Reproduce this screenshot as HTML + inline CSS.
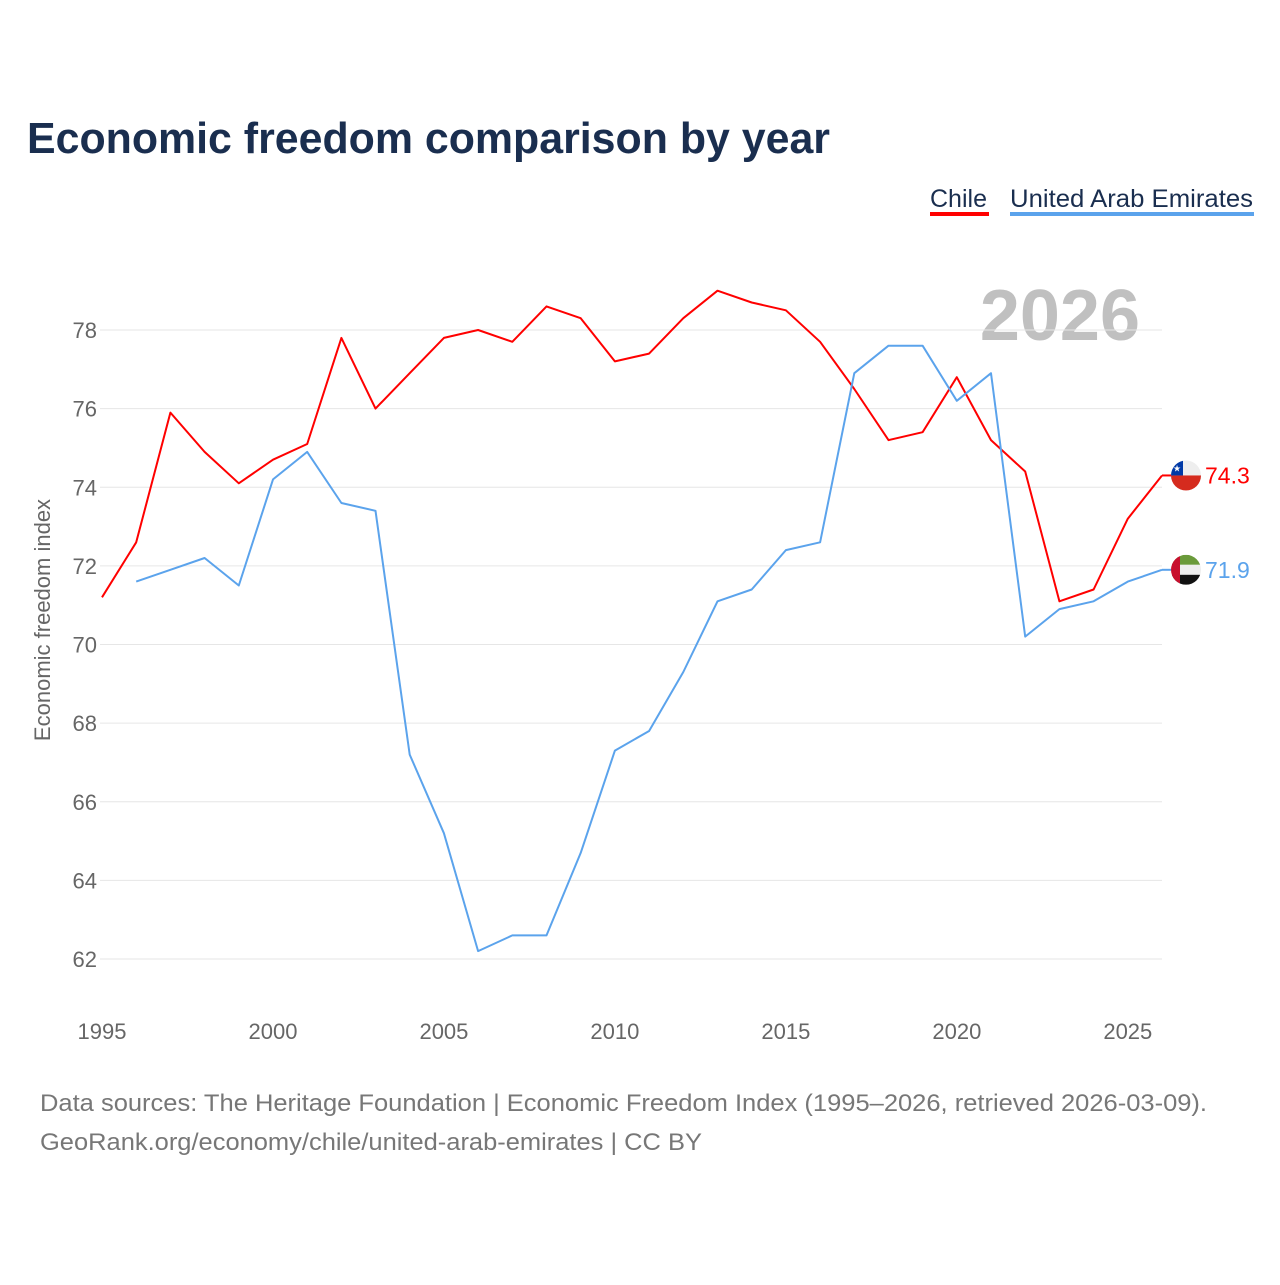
<!DOCTYPE html>
<html><head><meta charset="utf-8">
<style>
body{margin:0;background:#fff;width:1280px;height:1280px;overflow:hidden;font-family:"Liberation Sans",sans-serif;}
</style></head>
<body>
<svg id="chart" width="1280" height="1280" xmlns="http://www.w3.org/2000/svg" font-family="Liberation Sans, sans-serif">
<text x="27" y="153" font-size="44" font-weight="bold" fill="#1a2e4f" textLength="803" lengthAdjust="spacingAndGlyphs">Economic freedom comparison by year</text>
<g>
<text x="930" y="207" font-size="25" fill="#1a2e4f">Chile</text>
<rect x="930" y="212" width="59" height="4" fill="#ff0000"/>
<text x="1010" y="207" font-size="25" fill="#1a2e4f" textLength="243" lengthAdjust="spacingAndGlyphs">United Arab Emirates</text>
<rect x="1010" y="212" width="244" height="4" fill="#5ba3ec"/>
</g>
<text x="1140" y="340" font-size="72" font-weight="bold" fill="#c0c0c0" text-anchor="end">2026</text>
<text transform="translate(50,620) rotate(-90)" font-size="22" fill="#666" text-anchor="middle">Economic freedom index</text>
<g id="grid"></g><g id="ticks"></g><g id="lines"></g><g id="ends"></g>
<text x="40" y="1111" font-size="24" fill="#777" textLength="1167" lengthAdjust="spacingAndGlyphs">Data sources: The Heritage Foundation | Economic Freedom Index (1995–2026, retrieved 2026-03-09).</text>
<text x="40" y="1150" font-size="24" fill="#777" textLength="662" lengthAdjust="spacingAndGlyphs">GeoRank.org/economy/chile/united-arab-emirates | CC BY</text>
</svg>
<script>
const years=[1995,1996,1997,1998,1999,2000,2001,2002,2003,2004,2005,2006,2007,2008,2009,2010,2011,2012,2013,2014,2015,2016,2017,2018,2019,2020,2021,2022,2023,2024,2025,2026];
const chile=[71.2,72.6,75.9,74.9,74.1,74.7,75.1,77.8,76.0,76.9,77.8,78.0,77.7,78.6,78.3,77.2,77.4,78.3,79.0,78.7,78.5,77.7,76.5,75.2,75.4,76.8,75.2,74.4,71.1,71.4,73.2,74.3];
const uae=[null,71.6,71.9,72.2,71.5,74.2,74.9,73.6,73.4,67.2,65.2,62.2,62.6,62.6,64.7,67.3,67.8,69.3,71.1,71.4,72.4,72.6,76.9,77.6,77.6,76.2,76.9,70.2,70.9,71.1,71.6,71.9];
const yTicks=[62,64,66,68,70,72,74,76,78];
const xTicks=[1995,2000,2005,2010,2015,2020,2025];
const NS="http://www.w3.org/2000/svg";
const x=v=>102+(v-1995)*(1162-102)/31;
const y=v=>330+(78-v)*(959-330)/16;
function mk(tag,attrs,parent,text){const e=document.createElementNS(NS,tag);for(const k in attrs)e.setAttribute(k,attrs[k]);if(text!==undefined)e.textContent=text;document.getElementById(parent).appendChild(e);return e;}
yTicks.forEach(t=>{
  const g=mk('line',{x1:100,x2:1162,y1:y(t),y2:y(t),stroke:'#e6e6e6','stroke-width':1},'grid');
  
  
  const l=mk('text',{x:97,y:y(t)+8,'font-size':22,fill:'#666','text-anchor':'end'},'ticks',String(t));
  
  
});
xTicks.forEach(t=>{
  const l=mk('text',{x:x(t),y:1039,'font-size':22,fill:'#666','text-anchor':'middle'},'ticks',String(t));
  
  
});
function path(vals,color,name){
  let d='';let pen=false;
  vals.forEach((v,i)=>{if(v===null){pen=false;return;}d+=(pen?'L':'M')+x(years[i]).toFixed(1)+','+y(v).toFixed(1);pen=true;});
  const p=mk('path',{d:d,fill:'none',stroke:color,'stroke-width':2,'stroke-linejoin':'round'},'lines');
  
  
}
path(chile,'#ff0000','line-chile');
path(uae,'#5ba3ec','line-uae');
function end(vals,color,name,flag){
  const v=vals[vals.length-1];const cy=y(v);const cx=1186;
  const g=mk('g',{},'ends');
  
  
  const id='clip-'+name;
  const cp=document.createElementNS(NS,'clipPath');cp.setAttribute('id',id);
  const c=document.createElementNS(NS,'circle');c.setAttribute('cx',cx);c.setAttribute('cy',cy);c.setAttribute('r',15);cp.appendChild(c);g.appendChild(cp);
  const fg=document.createElementNS(NS,'g');fg.setAttribute('clip-path','url(#'+id+')');g.appendChild(fg);
  const r=(X,Y,W,H,f)=>{const e=document.createElementNS(NS,'rect');e.setAttribute('x',X);e.setAttribute('y',Y);e.setAttribute('width',W);e.setAttribute('height',H);e.setAttribute('fill',f);fg.appendChild(e);};
  if(flag==='cl'){r(cx-15,cy-15,30,15,'#eee');r(cx-15,cy,30,15,'#d52b1e');r(cx-15,cy-15,12,15,'#0039a6');
    const s=document.createElementNS(NS,'text');s.setAttribute('x',cx-9);s.setAttribute('y',cy-4);s.setAttribute('font-size',9);s.setAttribute('fill','#fff');s.setAttribute('text-anchor','middle');s.textContent='★';fg.appendChild(s);}
  else{r(cx-15,cy-15,30,10,'#6a9a3a');r(cx-15,cy-5,30,10,'#eee');r(cx-15,cy+5,30,10,'#111');r(cx-15,cy-15,9,30,'#c8102e');}
  const l=mk('line',{x1:1162,x2:1171,y1:cy,y2:cy,stroke:color,'stroke-width':2},'ends');
  
  
  const t=mk('text',{x:1205,y:cy+8,'font-size':23,fill:color},'ends',v.toFixed(1));
  
  
}
end(chile,'#ff0000','chile','cl');
end(uae,'#5ba3ec','uae','ae');
</script>
</body></html>
